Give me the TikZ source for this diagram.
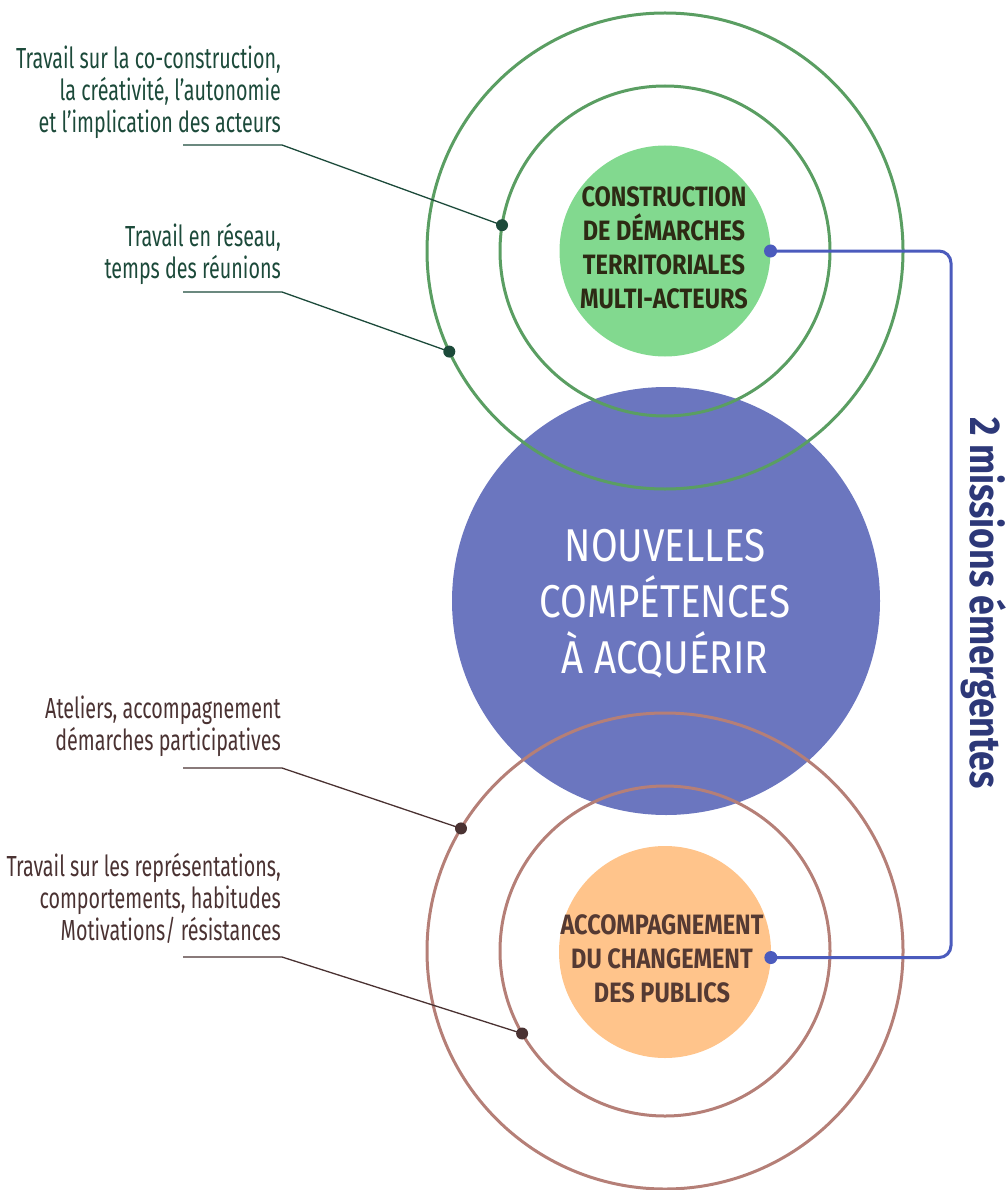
\documentclass[tikz,border=0pt]{standalone}
\usepackage{fontspec}
\setmainfont{Fira Sans}
\newfontfamily\lblfont[FakeStretch=0.68]{Fira Sans}
\newfontfamily\boxfont[FakeStretch=0.84]{Fira Sans}
\newfontfamily\bigfont[FakeStretch=0.84]{Fira Sans}
\newfontfamily\sidefont[FakeStretch=0.83]{Fira Sans}
\definecolor{coreblue}{HTML}{6B76BF}
\definecolor{fillgreen}{HTML}{82D98F}
\definecolor{fillorange}{HTML}{FFC48B}
\definecolor{ringgreen}{HTML}{5A9E62}
\definecolor{ringbrown}{HTML}{B57F77}
\definecolor{connblue}{HTML}{4B5BBD}
\definecolor{txtgreen}{HTML}{1C4A3A}
\definecolor{txtbrown}{HTML}{4A3232}
\definecolor{txtolive}{HTML}{2D2A14}
\definecolor{txtmaroon}{HTML}{553A33}
\definecolor{sidenavy}{HTML}{2D3878}
\tikzset{
  ring/.style={circle, draw, line width=3pt, inner sep=0pt, outer sep=0pt, minimum size=#1},
  disc/.style={circle, inner sep=0pt, outer sep=0pt, minimum size=#1},
  gdot/.style={circle, fill=txtgreen, inner sep=0pt, minimum size=12pt},
  bdot/.style={circle, fill=txtbrown, inner sep=0pt, minimum size=12pt},
  cdot/.style={circle, fill=connblue, inner sep=0pt, minimum size=13pt},
  glbl/.style={anchor=north east, align=right, inner sep=0pt, text=txtgreen, font=\lblfont\fontsize{29}{32}\selectfont},
  blbl/.style={anchor=north east, align=right, inner sep=0pt, text=txtbrown, font=\lblfont\fontsize{29}{32}\selectfont},
  gleader/.style={draw=txtgreen, line width=1.3pt},
  bleader/.style={draw=txtbrown, line width=1.3pt},
  conn/.style={draw=connblue, line width=3pt, rounded corners=12pt},
}
\begin{document}
\begin{tikzpicture}[x=1pt,y=-1pt]
\useasboundingbox (0,0) rectangle (1006,1190);
% central disc
\node[disc=428pt, fill=coreblue] (core) at (666,601) {};
% rings
\node[ring=476pt, draw=ringgreen] (gout) at (665,251) {};
\node[ring=330pt, draw=ringgreen] (gin) at (665,251) {};
\node[ring=476pt, draw=ringbrown] (bout) at (665,951) {};
\node[ring=330pt, draw=ringbrown] (bin) at (665,951) {};
% inner discs
\node[disc=211pt, fill=fillgreen] (gfill) at (665,251) {};
\node[disc=212pt, fill=fillorange] (ofill) at (665,952) {};
% texts in discs
\node[align=center, inner sep=0pt, text=white, font=\bigfont\fontsize{46}{56}\selectfont] (coretxt) at (665,604) {NOUVELLES\\COMPÉTENCES\\À ACQUÉRIR};
\node[align=center, inner sep=0pt, text=txtolive, font=\boxfont\bfseries\fontsize{28}{34}\selectfont] (gtxt) at (664,248) {CONSTRUCTION\\DE DÉMARCHES\\TERRITORIALES\\MULTI-ACTEURS};
\node[align=center, inner sep=0pt, text=txtmaroon, font=\boxfont\bfseries\fontsize{28}{34}\selectfont] (otxt) at (662,959) {ACCOMPAGNEMENT\\DU CHANGEMENT\\DES PUBLICS};
% connector
\node[cdot] (c1) at (gfill.east) {};
\node[cdot] (c2) at (ofill.-3) {};
\coordinate (cbend) at (951,600);
\draw[conn] (c1.center) -| (cbend) |- (c2.center);
\node[rotate=-90, anchor=base, inner sep=0pt, text=sidenavy, font=\sidefont\bfseries\fontsize{43}{50}\selectfont] (side) at (970,603) {2 missions émergentes};
% labels
\node[glbl] (l1) at (281,46) {Travail sur la co-construction,\\la créativité, l’autonomie\\et l’implication des acteurs};
\node[glbl] (l2) at (281,223) {Travail en réseau,\\temps des réunions};
\node[blbl] (l3) at (281,696) {Ateliers, accompagnement\\démarches participatives};
\node[blbl] (l4) at (281,853) {Travail sur les représentations,\\comportements, habitudes\\Motivations/ résistances};
% leader dots
\node[gdot] (d1) at (gin.171) {};
\node[gdot] (d2) at (gout.205.7) {};
\node[bdot] (d3) at (bout.149.6) {};
\node[bdot] (d4) at (bin.210.7) {};
\coordinate (u1a) at (183,145); \coordinate (u1b) at (282,145);
\coordinate (u2a) at (183,292); \coordinate (u2b) at (282,292);
\coordinate (u3a) at (183,768); \coordinate (u3b) at (282,768);
\coordinate (u4a) at (183,957); \coordinate (u4b) at (282,957);
\draw[gleader] (u1a) -- (u1b) -- (d1.center);
\draw[gleader] (u2a) -- (u2b) -- (d2.center);
\draw[bleader] (u3a) -- (u3b) -- (d3.center);
\draw[bleader] (u4a) -- (u4b) -- (d4.center);
\end{tikzpicture}
\end{document}
